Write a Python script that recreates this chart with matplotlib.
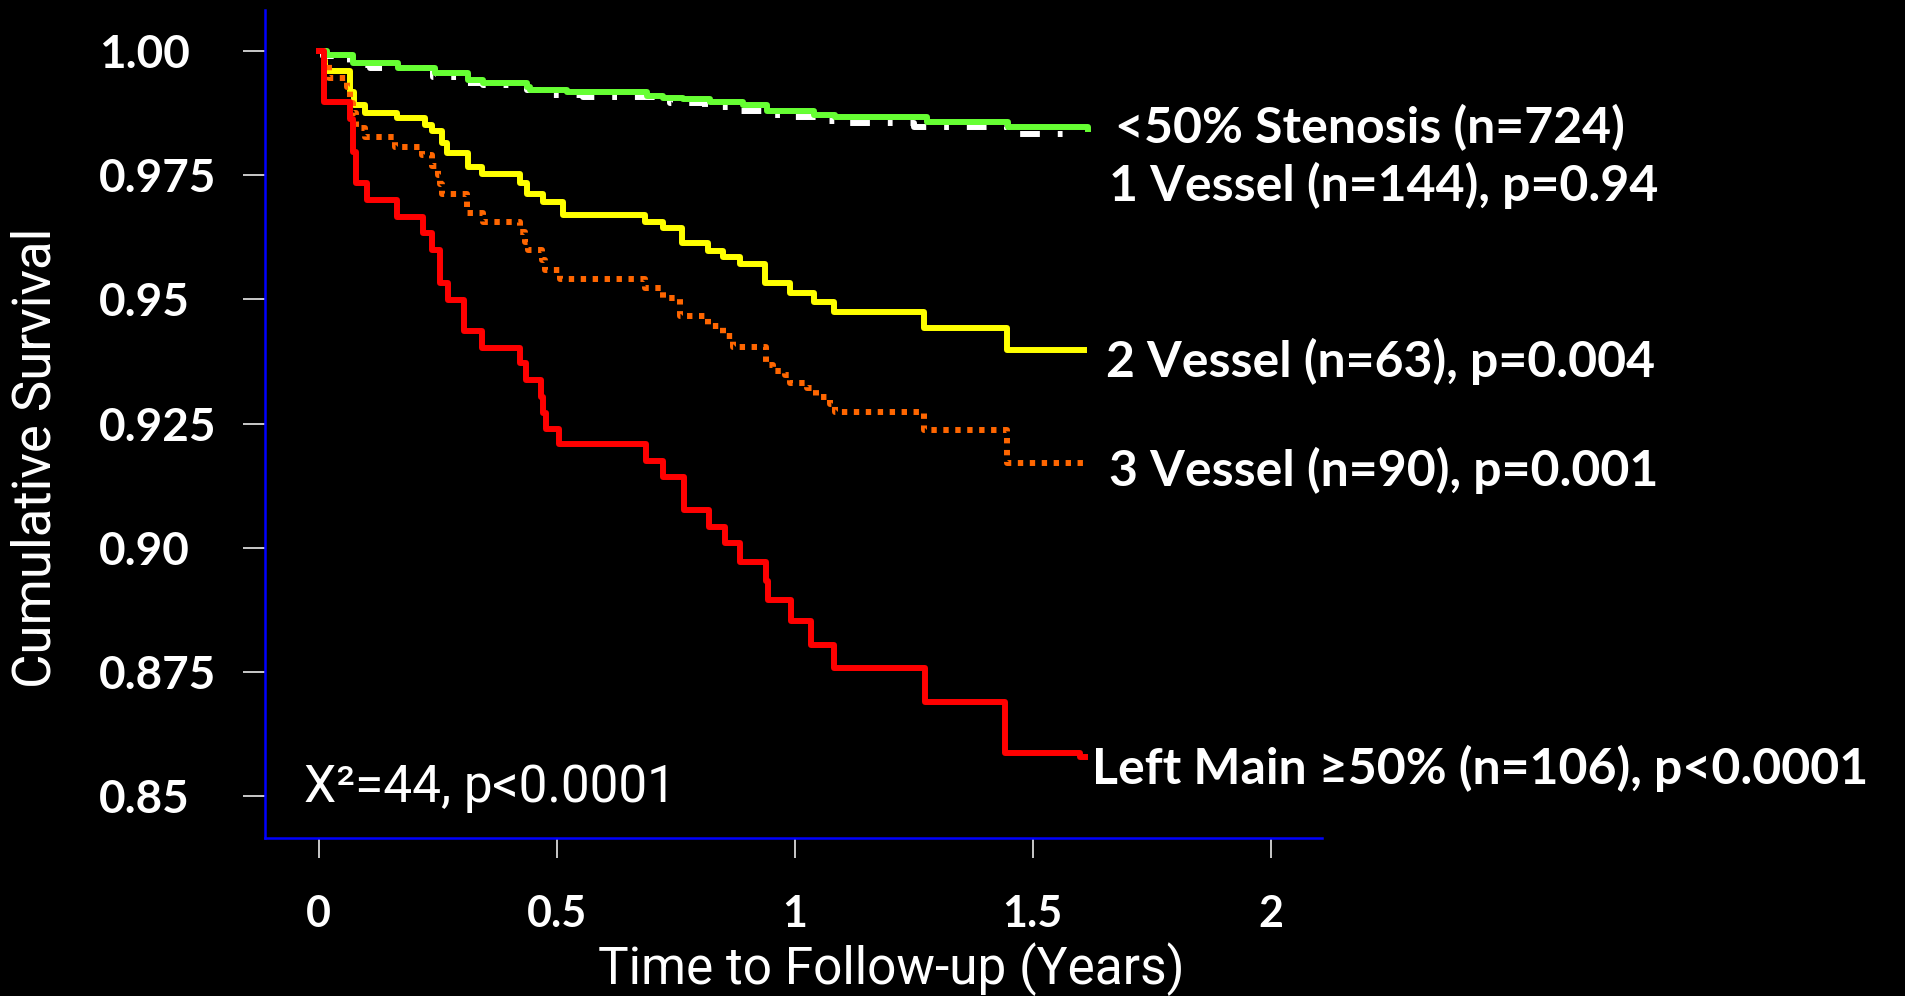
import matplotlib
matplotlib.use("Agg")
import matplotlib.pyplot as plt

# Kaplan-Meier step data (time in years, cumulative survival)
green_t = [0, 0.017, 0.073, 0.168, 0.245, 0.315, 0.346, 0.437, 0.444, 0.521, 0.690, 0.724,
           0.766, 0.822, 0.892, 0.942, 1.040, 1.085, 1.278, 1.449, 1.617]
green_s = [1.000, 0.9992, 0.9975, 0.9965, 0.9955, 0.9942, 0.9936, 0.9928, 0.9921, 0.9918, 0.9909, 0.9905,
           0.9903, 0.9898, 0.9891, 0.9880, 0.9871, 0.9867, 0.9858, 0.9848, 0.9842]

white_t = [0, 0.010, 0.066, 0.108, 0.241, 0.304, 0.346, 0.437, 0.472, 0.556, 0.738, 0.812,
           0.861, 0.934, 0.984, 1.061, 1.110, 1.250, 1.446, 1.600]
white_s = [1.000, 0.9990, 0.9972, 0.9965, 0.9948, 0.9936, 0.9932, 0.9921, 0.9911, 0.9907, 0.9895, 0.9888,
           0.9880, 0.9871, 0.9867, 0.9860, 0.9856, 0.9848, 0.9832, 0.9832]

yellow_t = [0, 0.014, 0.066, 0.075, 0.098, 0.164, 0.224, 0.238, 0.259, 0.269, 0.315, 0.343, 0.423,
            0.437, 0.472, 0.514, 0.686, 0.724, 0.763, 0.819, 0.850, 0.886, 0.938, 0.991, 1.040,
            1.082, 1.271, 1.446, 1.607]
yellow_s = [1.000, 0.9960, 0.9918, 0.9891, 0.9876, 0.9866, 0.9851, 0.9838, 0.9815, 0.9794, 0.9767, 0.9752, 0.9734,
            0.9713, 0.9697, 0.9670, 0.9656, 0.9643, 0.9613, 0.9598, 0.9586, 0.9571, 0.9532, 0.9513, 0.9494,
            0.9475, 0.9442, 0.9398, 0.9398]

orange_t = [0, 0.014, 0.021, 0.059, 0.066, 0.073, 0.079, 0.098, 0.161, 0.217, 0.238, 0.250, 0.255,
            0.259, 0.311, 0.346, 0.423, 0.434, 0.441, 0.469, 0.476, 0.507, 0.686, 0.724, 0.759,
            0.819, 0.850, 0.870, 0.939, 0.955, 0.980, 0.990, 1.026, 1.045, 1.075, 1.085, 1.271,
            1.446, 1.607]
orange_s = [1.000, 0.9982, 0.9945, 0.9928, 0.9895, 0.9875, 0.9846, 0.9826, 0.9807, 0.9791, 0.9769, 0.9750, 0.9732,
            0.9713, 0.9674, 0.9655, 0.9636, 0.9616, 0.9599, 0.9579, 0.9560, 0.9541, 0.9522, 0.9503, 0.9466,
            0.9446, 0.9426, 0.9405, 0.9368, 0.9356, 0.9348, 0.9332, 0.9321, 0.9304, 0.9289, 0.9274, 0.9237,
            0.9170, 0.9170]

red_t = [0, 0.012, 0.066, 0.073, 0.079, 0.101, 0.164, 0.220, 0.238, 0.255, 0.273, 0.306, 0.343,
         0.424, 0.435, 0.467, 0.472, 0.478, 0.505, 0.687, 0.724, 0.767, 0.821, 0.853, 0.885, 0.939,
         0.944, 0.992, 1.035, 1.083, 1.273, 1.442, 1.600, 1.610]
red_s = [1.000, 0.9898, 0.9864, 0.9797, 0.9734, 0.9700, 0.9666, 0.9633, 0.9599, 0.9532, 0.9499, 0.9437, 0.9403,
         0.9371, 0.9338, 0.9304, 0.9271, 0.9238, 0.9209, 0.9175, 0.9143, 0.9076, 0.9042, 0.9009, 0.8972, 0.8932,
         0.8895, 0.8852, 0.8805, 0.8757, 0.8690, 0.8586, 0.8578, 0.8578]

group_labels = ["<50% Stenosis (n=724)", "1 Vessel (n=144), p=0.94", "2 Vessel (n=63), p=0.004",
                "3 Vessel (n=90), p=0.001", "Left Main \u226550% (n=106), p<0.0001"]
stat_text = "\u03a7\u00b2=44, p<0.0001"

xticks = [0, 0.5, 1, 1.5, 2]
xtick_labels = ["0", "0.5", "1", "1.5", "2"]
yticks = [1.00, 0.975, 0.95, 0.925, 0.90, 0.875, 0.85]
ytick_labels = ["1.00", "0.975", "0.95", "0.925", "0.90", "0.875", "0.85"]

W, H = 1906, 996
fig = plt.figure(figsize=(W / 100, H / 100), dpi=100, facecolor="black")
ax = fig.add_axes([265 / W, 1 - 838 / H, (1322 - 265) / W, (838 - 9.5) / H], facecolor="black")

lw = 4.3
ax.step(yellow_t, yellow_s, where="post", color="#ffff00", lw=lw)
ax.step(orange_t, orange_s, where="post", color="#ff6600", lw=lw, dashes=(0.9, 1.1), dash_capstyle="butt")
ax.step(white_t, white_s, where="post", color="white", lw=lw, dashes=(3.3, 3, 0.8, 3))
ax.step(green_t, green_s, where="post", color="#66ff33", lw=lw)
ax.step(red_t, red_s, where="post", color="#ff0000", lw=lw)

ax.set_xlim(-0.1124, 2.108)
ax.set_ylim(0.84155, 1.00836)
for s in ("top", "right"):
    ax.spines[s].set_visible(False)
for s in ("left", "bottom"):
    ax.spines[s].set_color("#0000ff")
    ax.spines[s].set_linewidth(1.8)

ax.set_xticks(xticks)
ax.set_xticklabels(xtick_labels, fontfamily=["Lato", "DejaVu Sans"], fontweight="bold", fontsize=31, color="white")
ax.set_yticks(yticks)
ax.set_yticklabels(ytick_labels, fontfamily=["Lato", "DejaVu Sans"], fontweight="bold", fontsize=33, color="white",
                   ha="left")
ax.tick_params(axis="x", colors="white", length=14.4, width=1.1, pad=26)
ax.tick_params(axis="y", colors="white", length=15.8, width=1.1, pad=104)

ax.set_xlabel("Time to Follow-up (Years)", fontfamily=["Roboto", "DejaVu Sans"], fontsize=37, color="white")
ax.xaxis.set_label_coords((891 - 265) / (1322 - 265), -(969 - 838) / (838 - 9.5))
ax.xaxis.label.set_va("center")
ax.set_ylabel("Cumulative Survival", fontfamily=["Roboto", "DejaVu Sans"], fontsize=38, color="white")
ax.yaxis.set_label_coords(-(265 - 36) / (1322 - 265), (838 - 458) / (838 - 9.5))
ax.yaxis.label.set_va("center")

label_pos = [(1115, 128), (1109, 185), (1106, 361), (1109, 470), (1092, 768)]
for txt, (px, py) in zip(group_labels, label_pos):
    fig.text(px / W, 1 - py / H, txt, color="white", fontsize=36, fontweight="bold",
             family=["Lato", "DejaVu Sans"], ha="left", va="center")
fig.text(304 / W, 1 - 788 / H, stat_text, color="white", fontsize=37,
         family=["Roboto", "DejaVu Sans"], ha="left", va="center")

fig.savefig("out.png", dpi=100, facecolor="black")
